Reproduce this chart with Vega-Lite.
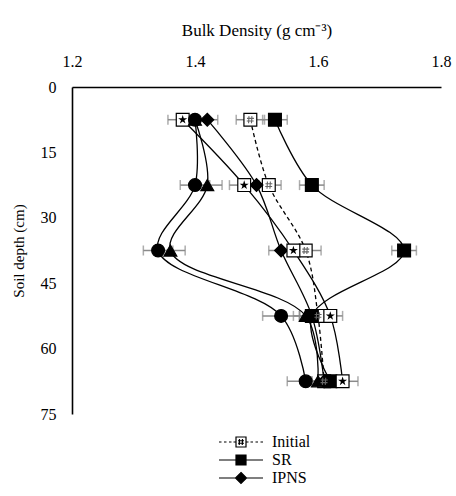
{
  "$schema": "https://vega.github.io/schema/vega-lite/v6.json",
  "autosize": "none",
  "width": 369,
  "height": 327,
  "padding": {"left": 72, "top": 87, "right": 15, "bottom": 82},
  "background": "white",
  "config": {
    "view": {"stroke": null},
    "font": "Liberation Serif",
    "axis": {"grid": false, "ticks": false, "domainColor": "black", "domainWidth": 1.6, "labelColor": "black", "titleColor": "black", "labelFont": "Liberation Serif", "titleFont": "Liberation Serif", "titleFontWeight": "normal"},
    "legend": {"labelFont": "Liberation Serif"}
  },
  "data": {
    "values": [
      {"series": "Initial", "depth": 7.5, "bd": 1.49, "err": 0.023},
      {"series": "Initial", "depth": 22.5, "bd": 1.52, "err": 0.02},
      {"series": "Initial", "depth": 37.5, "bd": 1.58, "err": 0.025},
      {"series": "Initial", "depth": 52.5, "bd": 1.6, "err": 0.02},
      {"series": "Initial", "depth": 67.5, "bd": 1.61, "err": 0.02},
      {"series": "SR", "depth": 7.5, "bd": 1.53, "err": 0.02},
      {"series": "SR", "depth": 22.5, "bd": 1.59, "err": 0.02},
      {"series": "SR", "depth": 37.5, "bd": 1.74, "err": 0.02},
      {"series": "SR", "depth": 52.5, "bd": 1.59, "err": 0.02},
      {"series": "SR", "depth": 67.5, "bd": 1.62, "err": 0.02},
      {"series": "IPNS", "depth": 7.5, "bd": 1.42, "err": 0.017},
      {"series": "IPNS", "depth": 22.5, "bd": 1.5, "err": 0.02},
      {"series": "IPNS", "depth": 37.5, "bd": 1.54, "err": 0.02},
      {"series": "IPNS", "depth": 52.5, "bd": 1.59, "err": 0.02},
      {"series": "IPNS", "depth": 67.5, "bd": 1.61, "err": 0.02},
      {"series": "FYM", "depth": 7.5, "bd": 1.38, "err": 0.024},
      {"series": "FYM", "depth": 22.5, "bd": 1.48, "err": 0.024},
      {"series": "FYM", "depth": 37.5, "bd": 1.56, "err": 0.02},
      {"series": "FYM", "depth": 52.5, "bd": 1.62, "err": 0.02},
      {"series": "FYM", "depth": 67.5, "bd": 1.64, "err": 0.025},
      {"series": "INM", "depth": 7.5, "bd": 1.4, "err": 0.02},
      {"series": "INM", "depth": 22.5, "bd": 1.4, "err": 0.024},
      {"series": "INM", "depth": 37.5, "bd": 1.34, "err": 0.024},
      {"series": "INM", "depth": 52.5, "bd": 1.54, "err": 0.03},
      {"series": "INM", "depth": 67.5, "bd": 1.58, "err": 0.03},
      {"series": "RDF", "depth": 7.5, "bd": 1.4, "err": 0.02},
      {"series": "RDF", "depth": 22.5, "bd": 1.42, "err": 0.024},
      {"series": "RDF", "depth": 37.5, "bd": 1.36, "err": 0.024},
      {"series": "RDF", "depth": 52.5, "bd": 1.58, "err": 0.02},
      {"series": "RDF", "depth": 67.5, "bd": 1.6, "err": 0.02}
    ]
  },
  "encoding": {
    "x": {
      "field": "bd", "type": "quantitative",
      "scale": {"domain": [1.2, 1.8], "zero": false, "nice": false},
      "axis": {"orient": "top", "values": [1.2, 1.4, 1.6, 1.8], "format": ".1f", "title": "Bulk Density (g cm⁻³)", "labelFont": "Liberation Serif", "labelFontSize": 16, "labelPadding": 18, "titleFontSize": 17, "titlePadding": 14, "labelFlush": false}
    },
    "y": {
      "field": "depth", "type": "quantitative",
      "scale": {"domain": [0, 75], "reverse": true, "nice": false},
      "axis": {"values": [0, 15, 30, 45, 60, 75], "title": "Soil depth (cm)", "labelFont": "Liberation Serif", "labelFontSize": 16, "labelPadding": 16, "titleFontSize": 15, "titlePadding": 14, "labelFlush": false}
    }
  },
  "layer": [
    {
      "mark": {"type": "errorbar", "ticks": {"size": 10, "thickness": 1.5}, "color": "#8a8a8a", "thickness": 1.5},
      "encoding": {"xError": {"field": "err"}}
    },
    {
      "transform": [{"filter": "datum.series !== 'Initial'"}],
      "mark": {"type": "line", "interpolate": "catmull-rom", "color": "black", "strokeWidth": 1.3},
      "encoding": {
        "detail": {"field": "series"},
        "order": {"field": "depth", "type": "quantitative"}
      }
    },
    {
      "transform": [{"filter": "datum.series === 'Initial'"}],
      "mark": {"type": "line", "interpolate": "catmull-rom", "color": "black", "strokeWidth": 1.3, "strokeDash": [4, 3]},
      "encoding": {
        "order": {"field": "depth", "type": "quantitative"}
      }
    },
    {
      "mark": {"type": "point", "filled": true, "size": 165, "stroke": "black", "strokeWidth": 1.2, "opacity": 1},
      "encoding": {
        "fill": {"condition": {"test": "datum.series === 'Initial' || datum.series === 'FYM'", "value": "white"}, "value": "black"},
        "shape": {
          "condition": [
            {"test": "datum.series === 'IPNS'", "value": "diamond"},
            {"test": "datum.series === 'INM'", "value": "circle"},
            {"test": "datum.series === 'RDF'", "value": "triangle-up"}
          ],
          "value": "square"
        }
      }
    },
    {
      "transform": [{"filter": "datum.series === 'FYM'"}],
      "mark": {"type": "point", "filled": true, "color": "black", "size": 90, "opacity": 1,
        "shape": "M0,-1L0.225,-0.309L0.951,-0.309L0.363,0.118L0.588,0.809L0,0.382L-0.588,0.809L-0.363,0.118L-0.951,-0.309L-0.225,-0.309Z"}
    },
    {
      "transform": [{"filter": "datum.series === 'Initial'"}],
      "mark": {"type": "point", "filled": false, "color": "#666666", "size": 80, "strokeWidth": 1.1, "opacity": 1,
        "shape": "M-0.3,-0.8L-0.4,0.8M0.35,-0.8L0.25,0.8M-0.75,-0.3L0.8,-0.3M-0.8,0.3L0.75,0.3"}
    },
    {
      "transform": [{"filter": "false"}],
      "mark": {"type": "point", "filled": true, "strokeWidth": 1.2, "opacity": 1},
      "encoding": {
        "shape": {
          "field": "series", "type": "nominal",
          "scale": {"domain": ["Initial", "SR", "IPNS"], "range": [
            "M-4.4,0L-3.9,0M-3.4,0L-2.9,0M-2.4,0L-1.9,0M-1.5,0L-1.1,0M1.1,0L1.5,0M1.9,0L2.4,0M2.9,0L3.4,0M3.9,0L4.4,0M-1,-1L1,-1L1,1L-1,1ZM-0.3,-0.6L-0.35,0.6M0.3,-0.6L0.25,0.6M-0.6,-0.25L0.6,-0.25M-0.6,0.25L0.6,0.25",
            "M-4.4,0L-1,0M1,0L4.4,0M-1,-1L1,-1L1,1L-1,1Z",
            "M-4.4,0L-1.1,0M1.1,0L4.4,0M0,-1.1L1.1,0L0,1.1L-1.1,0Z"
          ]},
          "legend": {
            "orient": "none", "legendX": 161, "legendY": 347,
            "direction": "vertical", "title": null,
            "symbolSize": 100, "symbolStrokeWidth": 1.2,
            "labelOffset": 23, "rowPadding": 2,
            "labelFont": "Liberation Serif", "labelFontSize": 16, "labelColor": "black"
          }
        },
        "fill": {
          "field": "series", "type": "nominal",
          "scale": {"domain": ["Initial", "SR", "IPNS"], "range": ["white", "black", "black"]},
          "legend": {
            "orient": "none", "legendX": 161, "legendY": 347,
            "direction": "vertical", "title": null,
            "symbolSize": 100, "symbolStrokeWidth": 1.2,
            "labelOffset": 23, "rowPadding": 2,
            "labelFont": "Liberation Serif", "labelFontSize": 16, "labelColor": "black"
          }
        },
        "stroke": {
          "field": "series", "type": "nominal",
          "scale": {"domain": ["Initial", "SR", "IPNS"], "range": ["black", "black", "black"]},
          "legend": {
            "orient": "none", "legendX": 161, "legendY": 347,
            "direction": "vertical", "title": null,
            "symbolSize": 100, "symbolStrokeWidth": 1.2,
            "labelOffset": 23, "rowPadding": 2,
            "labelFont": "Liberation Serif", "labelFontSize": 16, "labelColor": "black"
          }
        }
      }
    }
  ]
}
